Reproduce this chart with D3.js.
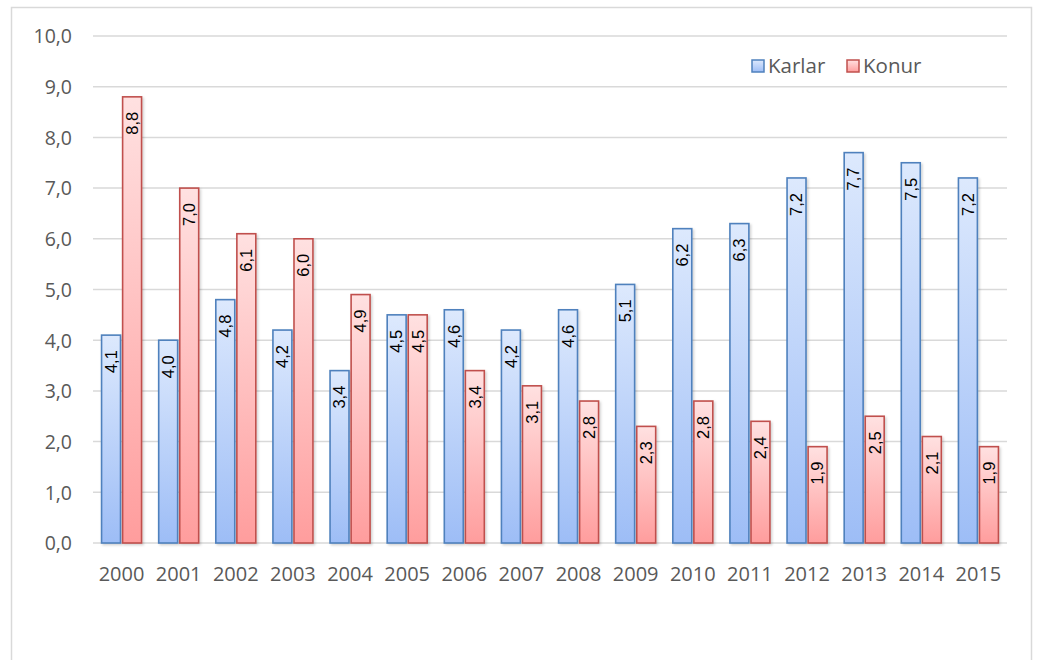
<!DOCTYPE html>
<html><head><meta charset="utf-8">
<script src="https://cdn.jsdelivr.net/npm/d3@7"></script>
<style>body{margin:0;background:#fff}svg{display:block}</style>
</head><body><svg id="c" width="1040" height="660"></svg>
<script>
const years = ["2000","2001","2002","2003","2004","2005","2006","2007","2008","2009","2010","2011","2012","2013","2014","2015"];
const karlar = [4.1,4.0,4.8,4.2,3.4,4.5,4.6,4.2,4.6,5.1,6.2,6.3,7.2,7.7,7.5,7.2];
const konur  = [8.8,7.0,6.1,6.0,4.9,4.5,3.4,3.1,2.8,2.3,2.8,2.4,1.9,2.5,2.1,1.9];
const seriesNames = ["Karlar","Konur"];
const yTicks = [0,1,2,3,4,5,6,7,8,9,10];

const svg = d3.select("#c");
const defs = svg.append("defs");
function grad(id, top, bottom){
  const g = defs.append("linearGradient").attr("id",id).attr("x1",0).attr("y1",0).attr("x2",0).attr("y2",1);
  g.append("stop").attr("offset","0%").attr("stop-color",top);
  g.append("stop").attr("offset","100%").attr("stop-color",bottom);
}
grad("gK","#dde9fd","#9dbdf6");
grad("gF","#ffe1e1","#ff9d9d");
const f = defs.append("filter").attr("id","sh").attr("x","-20%").attr("y","-5%").attr("width","150%").attr("height","115%");
f.append("feDropShadow").attr("dx",1.5).attr("dy",1.5).attr("stdDeviation",1.2).attr("flood-color","#000").attr("flood-opacity",0.18);

// frame
svg.append("rect").attr("x",11.5).attr("y",7.5).attr("width",1020).attr("height",700)
  .attr("fill","none").attr("stroke","#d9d9d9").attr("stroke-width",1.5);

const x0 = d3.scaleBand().domain(years).range([93,1007]).paddingInner(0).paddingOuter(0);
const bw = x0.bandwidth();
const x1 = d3.scaleBand().domain(seriesNames).range([bw/2-20, bw/2+20]).paddingInner(0.1).paddingOuter(0);
const y = d3.scaleLinear().domain([0,10]).range([543,36]);
const fmt = v => d3.format(".1f")(v).replace(".",",");

// grid
svg.append("g").selectAll("line").data(yTicks).join("line")
  .attr("x1",93).attr("x2",1007).attr("y1",d=>y(d)).attr("y2",d=>y(d))
  .attr("stroke","#d9d9d9").attr("stroke-width",1.5);

// y axis labels
const yAxis = d3.axisLeft(y).tickValues(yTicks).tickFormat(fmt).tickSize(0).tickPadding(0);
const ya = svg.append("g").attr("transform","translate(72,0)").call(yAxis);
ya.select(".domain").remove();
ya.selectAll("text").attr("font-family","'Open Sans'").attr("font-size",19.5).attr("fill","#595959").attr("dy","0.35em");

// x axis labels
const xAxis = d3.axisBottom(x0).tickSize(0).tickPadding(0);
const xa = svg.append("g").attr("transform","translate(0,567)").call(xAxis);
xa.select(".domain").remove();
xa.selectAll("text").attr("font-family","'Open Sans'").attr("font-size",20).attr("fill","#595959").attr("dy","0.71em");

const rows = years.map((yr,i)=>({year:yr, vals:[{s:"Karlar",v:karlar[i]},{s:"Konur",v:konur[i]}]}));
const gs = svg.append("g").selectAll("g").data(rows).join("g").attr("transform",d=>`translate(${x0(d.year)},0)`);
gs.selectAll("rect").data(d=>d.vals).join("rect")
  .attr("x",d=>x1(d.s)).attr("width",x1.bandwidth())
  .attr("y",d=>y(d.v)).attr("height",d=>y(0)-y(d.v))
  .attr("fill",d=>d.s==="Karlar"?"url(#gK)":"url(#gF)")
  .attr("stroke",d=>d.s==="Karlar"?"#4f81bd":"#c0504d").attr("stroke-width",1.6)
  .attr("filter","url(#sh)");
gs.selectAll("text").data(d=>d.vals).join("text")
  .attr("transform",d=>`translate(${x1(d.s)+x1.bandwidth()/2+5.8},${y(d.v)+15}) rotate(-90)`)
  .attr("text-anchor","end")
  .attr("font-family","'Liberation Sans', Arial").attr("font-size",16.5).attr("fill","#000")
  .text(d=>fmt(d.v));

// legend
const leg = svg.append("g");
const legItems = [{s:"Karlar",x:752,fill:"url(#gK)",st:"#4f81bd"},{s:"Konur",x:847,fill:"url(#gF)",st:"#c0504d"}];
legItems.forEach(it=>{
  leg.append("rect").attr("x",it.x).attr("y",60).attr("width",12).attr("height",12)
    .attr("fill",it.fill).attr("stroke",it.st).attr("stroke-width",1.5);
  leg.append("text").attr("x",it.x+16).attr("y",66).attr("dy","0.35em")
    .attr("font-family","'Open Sans'").attr("font-size",20.5).attr("fill","#595959").text(it.s);
});
</script></body></html>
